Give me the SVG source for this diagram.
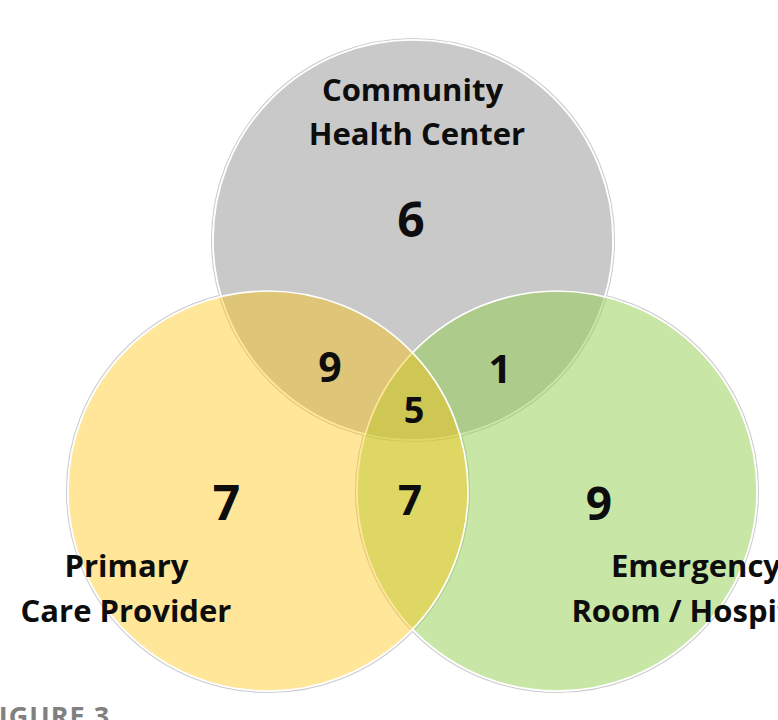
<svg xmlns="http://www.w3.org/2000/svg" width="778" height="720" viewBox="0 0 778 720">
  <style>
    .halo { fill: none; stroke: #cfcfcf; stroke-width: 1.2; }
    .ring { stroke: #ffffff; stroke-width: 1.6; }
    .set-label { font-family: "Open Sans", "Liberation Sans", sans-serif; font-weight: 700; font-size: 31px; fill: #0d0d0d; text-anchor: middle; }
    .count { font-family: "Open Sans", "Liberation Sans", sans-serif; font-weight: 700; fill: #0d0d0d; text-anchor: middle; }
    .caption { font-family: "Open Sans", "Liberation Sans", sans-serif; font-weight: 700; font-size: 27px; fill: #808080; letter-spacing: 1px; }
  </style>
  <rect width="778" height="720" fill="#ffffff"/>

  <!-- faint outer edge under every circle -->
  <g id="halos">
    <circle class="halo" cx="413" cy="240" r="201.5"/>
    <circle class="halo" cx="557" cy="491" r="201.5"/>
    <circle class="halo" cx="268" cy="491" r="201.5"/>
  </g>

  <g id="community-health-center">
    <circle class="ring" cx="413" cy="240" r="200" fill="#c9c9c9"/>
  </g>
  <g id="emergency-room-hospital">
    <circle class="ring" cx="557" cy="491" r="200" fill="#92d050" fill-opacity="0.5"/>
  </g>
  <g id="primary-care-provider">
    <circle class="ring" cx="268" cy="491" r="200" fill="#ffc000" fill-opacity="0.4"/>
  </g>

  <!-- set names -->
  <g id="labels">
    <text class="set-label" x="412.5" y="101">Community</text>
    <text class="set-label" x="417" y="145">Health Center</text>
    <text class="set-label" x="126.5" y="577">Primary</text>
    <text class="set-label" x="126" y="622">Care Provider</text>
    <text class="set-label" x="696" y="577">Emergency</text>
    <text class="set-label" x="695" y="622">Room / Hospital</text>
  </g>

  <!-- region counts -->
  <g id="counts">
    <text class="count" x="411" y="237" font-size="48">6</text>
    <text class="count" x="330" y="382" font-size="41">9</text>
    <text class="count" x="500" y="383" font-size="40">1</text>
    <text class="count" x="414" y="423" font-size="36">5</text>
    <text class="count" x="226.5" y="520" font-size="48">7</text>
    <text class="count" x="410" y="515" font-size="42">7</text>
    <text class="count" x="599" y="520" font-size="46">9</text>
  </g>

  <text class="caption" x="-17" y="726">FIGURE 3</text>
</svg>
